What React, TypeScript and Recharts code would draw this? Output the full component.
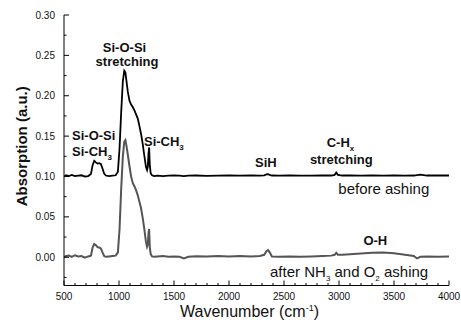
import React from "react"
import { LineChart, Line, XAxis, YAxis, ReferenceDot } from "recharts"

// wavenumber grid (cm-1) and absorbance
const wavenumbers = [
  500, 520, 545, 570, 600, 630, 660, 690, 720, 745, 760, 775, 790, 805, 820, 835, 850, 865, 880, 910,
  940, 970, 990, 1005, 1020, 1035, 1048, 1058, 1068, 1080, 1095, 1110, 1125, 1140, 1155, 1170, 1185,
  1200, 1215, 1230, 1245, 1255, 1262, 1268, 1274, 1280, 1288, 1300, 1320, 1350, 1400, 1450, 1500,
  1550, 1590, 1630, 1700, 1800, 1900, 2000, 2100, 2200, 2280, 2320, 2340, 2355, 2370, 2390, 2450,
  2550, 2650, 2750, 2850, 2930, 2960, 2975, 2990, 3030, 3100, 3200, 3300, 3400, 3500, 3600, 3680,
  3710, 3740, 3800, 3900, 4000,
]

const beforeAshing = [
  0.1, 0.1015, 0.1005, 0.102, 0.1005, 0.101, 0.1015, 0.1, 0.1005, 0.103, 0.114, 0.1195, 0.1175, 0.116,
  0.1165, 0.1155, 0.11, 0.1035, 0.1012, 0.1005, 0.101, 0.1015, 0.106, 0.135, 0.18, 0.218, 0.231, 0.229,
  0.218, 0.205, 0.194, 0.189, 0.186, 0.182, 0.177, 0.172, 0.163, 0.153, 0.141, 0.126, 0.112, 0.108,
  0.112, 0.128, 0.136, 0.114, 0.104, 0.1015, 0.1005, 0.101, 0.1005, 0.101, 0.1015, 0.101, 0.1005,
  0.101, 0.1012, 0.1008, 0.101, 0.1012, 0.101, 0.1012, 0.101, 0.1015, 0.1025, 0.1028, 0.102, 0.1012,
  0.101, 0.1012, 0.101, 0.101, 0.1012, 0.1012, 0.102, 0.1048, 0.102, 0.1012, 0.1012, 0.101, 0.1012,
  0.101, 0.1012, 0.101, 0.1012, 0.1018, 0.1022, 0.1012, 0.1015, 0.1012,
]

const afterAshing = [
  0.0, 0.0015, 0.002, 0.0005, 0.0025, 0.001, 0.0015, -0.0005, 0.001, 0.002, 0.012, 0.0165, 0.015,
  0.0125, 0.012, 0.011, 0.006, 0.0015, 0.0005, 0.001, 0.0015, 0.002, 0.006, 0.035, 0.085, 0.125, 0.143,
  0.145, 0.138, 0.127, 0.113, 0.1, 0.092, 0.088, 0.083, 0.077, 0.069, 0.061, 0.049, 0.035, 0.019,
  0.013, 0.016, 0.03, 0.035, 0.012, 0.004, 0.001, 0.0005, 0.001, 0.0015, 0.0005, 0.001, 0.0005,
  -0.0015, 0.0005, 0.0012, 0.001, 0.0015, 0.001, 0.0015, 0.001, 0.0015, 0.003, 0.0075, 0.0088, 0.006,
  0.001, 0.0005, 0.001, 0.0005, 0.001, 0.0015, 0.002, 0.003, 0.0055, 0.003, 0.003, 0.0038, 0.0045,
  0.0055, 0.006, 0.005, 0.003, 0.0015, -0.0015, 0.0005, 0.0008, 0.0005, 0.0008,
]

const xTicks = Array.from({ length: 36 }, (_, i) => 500 + i * 100)
const yTicks = [-0.025, 0, 0.025, 0.05, 0.075, 0.1, 0.125, 0.15, 0.175, 0.2, 0.225, 0.25, 0.275, 0.3]

const rows = wavenumbers.map((w, i) => ({ w, before: beforeAshing[i], after: afterAshing[i] }))

const FONT = "'Liberation Sans', Arial, Helvetica, sans-serif"

const isMajorX = (v: number) => v % 500 === 0
const isMajorY = (v: number) => Math.round(v * 1000) % 50 === 0

function BottomTick(props: any) {
  const { x, y, payload } = props
  const major = isMajorX(payload.value)
  return (
    <g>
      <line x1={x} x2={x} y1={y} y2={y - (major ? 5 : 2.5)} stroke="#000" />
      {major && (
        <text x={x} y={y + 14} textAnchor="middle" fontSize={10} fontFamily={FONT} fill="#111">
          {payload.value}
        </text>
      )}
    </g>
  )
}

function TopTick(props: any) {
  const { x, y, payload } = props
  return <line x1={x} x2={x} y1={y} y2={y + (isMajorX(payload.value) ? 5 : 2.5)} stroke="#000" />
}

function LeftTick(props: any) {
  const { x, y, payload } = props
  const major = isMajorY(payload.value)
  return (
    <g>
      <line x1={x} x2={x + (major ? 5 : 2.5)} y1={y} y2={y} stroke="#000" />
      {major && (
        <text x={x - 9} y={y + 3.6} textAnchor="end" fontSize={10} fontFamily={FONT} fill="#111">
          {payload.value.toFixed(2)}
        </text>
      )}
    </g>
  )
}

function RightTick(props: any) {
  const { x, y, payload } = props
  return <line x1={x} x2={x - (isMajorY(payload.value) ? 5 : 2.5)} y1={y} y2={y} stroke="#000" />
}

const note =
  (content: React.ReactNode, anchor: "start" | "middle" | "end", size = 13, bold = true) =>
  (p: any) => (
    <text
      x={p.cx}
      y={p.cy}
      textAnchor={anchor}
      fontSize={size}
      fontWeight={bold ? "bold" : "normal"}
      fontFamily={FONT}
      fill="#111"
    >
      {content}
    </text>
  )

const sub = (s: string) => (
  <tspan dy={4} fontSize={8}>
    {s}
  </tspan>
)

export default function App() {
  return (
    <div style={{ position: "absolute", left: 0, top: 0, width: 461, height: 323, background: "#fff" }}>
      <LineChart width={461} height={323} data={rows} margin={{ top: 15, right: 12, bottom: 0, left: 0 }}>
        <XAxis
          xAxisId="x"
          dataKey="w"
          type="number"
          domain={[500, 4000]}
          allowDataOverflow
          ticks={xTicks}
          interval={0}
          tickSize={0}
          tickMargin={0}
          tickLine={false}
          tick={BottomTick}
          height={37.5}
          axisLine={{ stroke: "#000" }}
          label={{
            content: (p: any) => (
              <text
                x={p.viewBox.x + p.viewBox.width / 2 - 7}
                y={p.viewBox.y + 31.5}
                textAnchor="middle"
                fontSize={16}
                fontFamily={FONT}
                fill="#111"
              >
                Wavenumber (cm
                <tspan dy={-6} fontSize={9}>
                  -1
                </tspan>
                <tspan dy={6}>)</tspan>
              </text>
            ),
          }}
        />
        <XAxis
          xAxisId="top"
          orientation="top"
          type="number"
          domain={[500, 4000]}
          allowDataOverflow
          ticks={xTicks}
          interval={0}
          tickSize={0}
          tickMargin={0}
          tickLine={false}
          tick={TopTick}
          height={0}
          axisLine={{ stroke: "#000" }}
        />
        <YAxis
          yAxisId="y"
          type="number"
          domain={[-0.035, 0.3]}
          allowDataOverflow
          ticks={yTicks}
          interval={0}
          tickSize={0}
          tickMargin={0}
          tickLine={false}
          tick={LeftTick}
          width={64}
          axisLine={{ stroke: "#000" }}
          label={{
            content: (p: any) => {
              const cx = p.viewBox.x + 27
              const cy = p.viewBox.y + p.viewBox.height / 2 - 4
              return (
                <text
                  x={cx}
                  y={cy}
                  transform={`rotate(-90 ${cx} ${cy})`}
                  textAnchor="middle"
                  fontSize={15}
                  fontWeight="bold"
                  fontFamily={FONT}
                  fill="#111"
                >
                  Absorption (a.u.)
                </text>
              )
            },
          }}
        />
        <YAxis
          yAxisId="r"
          orientation="right"
          type="number"
          domain={[-0.035, 0.3]}
          allowDataOverflow
          ticks={yTicks}
          interval={0}
          tickSize={0}
          tickMargin={0}
          tickLine={false}
          tick={RightTick}
          width={0}
          axisLine={{ stroke: "#000" }}
        />

        <Line
          xAxisId="x"
          yAxisId="y"
          type="linear"
          dataKey="after"
          stroke="#555"
          strokeWidth={2}
          dot={false}
          isAnimationActive={false}
        />
        <Line
          xAxisId="x"
          yAxisId="y"
          type="linear"
          dataKey="before"
          stroke="#000"
          strokeWidth={1.8}
          dot={false}
          isAnimationActive={false}
        />

        <ReferenceDot xAxisId="x" yAxisId="y" x={1050} y={0.2547} r={0} shape={note("Si-O-Si", "middle")} />
        <ReferenceDot xAxisId="x" yAxisId="y" x={1073} y={0.2368} r={0} shape={note("stretching", "middle")} />
        <ReferenceDot xAxisId="x" yAxisId="y" x={573} y={0.1451} r={0} shape={note("Si-O-Si", "start")} />
        <ReferenceDot
          xAxisId="x"
          yAxisId="y"
          x={573}
          y={0.1257}
          r={0}
          shape={note(<>Si-CH{sub("3")}</>, "start")}
        />
        <ReferenceDot
          xAxisId="x"
          yAxisId="y"
          x={1227}
          y={0.1381}
          r={0}
          shape={note(<>Si-CH{sub("3")}</>, "start")}
        />
        <ReferenceDot xAxisId="x" yAxisId="y" x={2335} y={0.1121} r={0} shape={note("SiH", "middle")} />
        <ReferenceDot
          xAxisId="x"
          yAxisId="y"
          x={2888}
          y={0.1368}
          r={0}
          shape={note(<>C-H{sub("x")}</>, "start")}
        />
        <ReferenceDot xAxisId="x" yAxisId="y" x={3021} y={0.1157} r={0} shape={note("stretching", "middle")} />
        <ReferenceDot
          xAxisId="x"
          yAxisId="y"
          x={2994}
          y={0.0783}
          r={0}
          shape={note("before ashing", "start", 15, false)}
        />
        <ReferenceDot xAxisId="x" yAxisId="y" x={3330} y={0.0151} r={0} shape={note("O-H", "middle")} />
        <ReferenceDot
          xAxisId="x"
          yAxisId="y"
          x={2373}
          y={-0.0239}
          r={0}
          shape={note(
            <>
              after NH{sub("3")}
              <tspan dy={-4}> and O</tspan>
              {sub("2")}
              <tspan dy={-4}> ashing</tspan>
            </>,
            "start",
            15,
            false
          )}
        />
      </LineChart>
    </div>
  )
}
